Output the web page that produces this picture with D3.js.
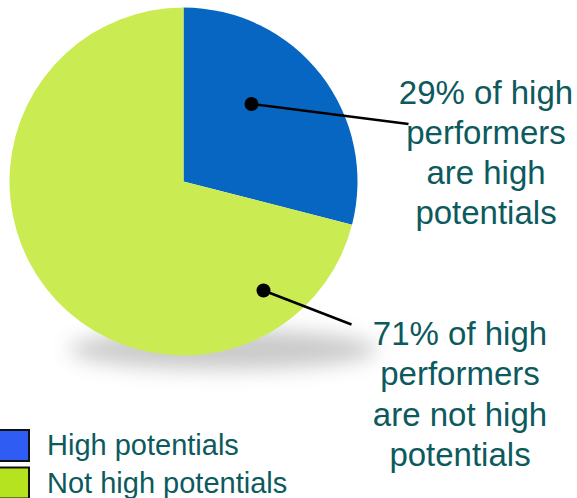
<!DOCTYPE html>
<html>
<head>
<meta charset="utf-8">
<script src="https://cdn.jsdelivr.net/npm/d3@7"></script>
<style>
  html, body { margin: 0; padding: 0; background: #fff; }
  svg { display: block; font-family: "Liberation Sans", Arial, sans-serif; }
</style>
</head>
<body>
<svg width="577" height="498"></svg>
<script>
"use strict";

// data
const categories = ["High potentials", "Not high potentials"];
const shares = [29, 71];
const sliceColors = ["#0766c2", "#cbeb52"];
const legendColors = ["#2f5cf2", "#b5e320"];
const calloutLines = [
  ["29% of high", "performers", "are high", "potentials"],
  ["71% of high", "performers", "are not high", "potentials"]
];

const svg = d3.select("svg");
const cx = 183.5, cy = 181.5, radius = 174;
const textColor = "#0d5a5e";

// soft shadow under the pie
const defs = svg.append("defs");
defs.append("filter")
  .attr("id", "blur")
  .attr("x", "-50%").attr("y", "-200%")
  .attr("width", "200%").attr("height", "500%")
  .append("feGaussianBlur")
  .attr("stdDeviation", 10);

svg.append("ellipse")
  .attr("cx", cx + 40).attr("cy", cy + radius - 6)
  .attr("rx", radius - 20).attr("ry", 20)
  .attr("fill", "#8a8a8a")
  .attr("opacity", 0.45)
  .attr("filter", "url(#blur)");

const pie = d3.pie().sort(null).value((d) => d)(shares);
const arc = d3.arc().innerRadius(0).outerRadius(radius);

const g = svg.append("g").attr("transform", `translate(${cx},${cy})`);
g.selectAll("path")
  .data(pie)
  .join("path")
  .attr("d", arc)
  .attr("fill", (d, i) => sliceColors[i]);

// callout dots and leader lines (relative to pie centre)
const dots = [[68, -77.5], [80, 109]];
const lineEnds = [[225, -57.5], [168, 143]];

g.selectAll("line.leader")
  .data(dots)
  .join("line")
  .attr("class", "leader")
  .attr("x1", (d) => d[0]).attr("y1", (d) => d[1])
  .attr("x2", (d, i) => lineEnds[i][0]).attr("y2", (d, i) => lineEnds[i][1])
  .attr("stroke", "#000")
  .attr("stroke-width", 2.5);

g.selectAll("circle.dot")
  .data(dots)
  .join("circle")
  .attr("class", "dot")
  .attr("cx", (d) => d[0]).attr("cy", (d) => d[1])
  .attr("r", 7)
  .attr("fill", "#000");

// callout text
const calloutPos = [[486, 103.5], [460, 345]];
svg.selectAll("text.callout")
  .data(calloutLines)
  .join("text")
  .attr("class", "callout")
  .attr("text-anchor", "middle")
  .attr("fill", textColor)
  .attr("font-size", 33)
  .attr("transform", (d, i) => `translate(${calloutPos[i][0]},${calloutPos[i][1]})`)
  .selectAll("tspan")
  .data((d) => d)
  .join("tspan")
  .attr("x", 0)
  .attr("y", (d, i) => i * 40.3)
  .text((d) => d);

// legend
const legend = svg.selectAll("g.legend")
  .data(categories)
  .join("g")
  .attr("class", "legend")
  .attr("transform", (d, i) => `translate(0,${430 + i * 37.5})`);

legend.append("rect")
  .attr("x", -4).attr("y", 0)
  .attr("width", 33).attr("height", 31)
  .attr("fill", (d, i) => legendColors[i])
  .attr("stroke", "#111")
  .attr("stroke-width", 2);

legend.append("text")
  .attr("x", 47).attr("y", 25)
  .attr("font-size", 29)
  .attr("fill", textColor)
  .text((d) => d);
</script>
</body>
</html>
